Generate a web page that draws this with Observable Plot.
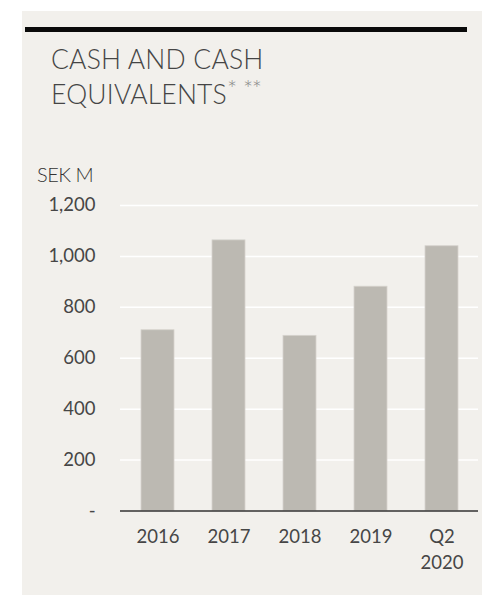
<!DOCTYPE html>
<html>
<head>
<meta charset="utf-8">
<script src="https://cdn.jsdelivr.net/npm/d3@7"></script>
<script src="https://cdn.jsdelivr.net/npm/@observablehq/plot@0.6"></script>
<style>
  html, body { margin: 0; padding: 0; background: #ffffff; }
  body { width: 482px; height: 595px; position: relative; overflow: hidden; font-family: Lato, "Open Sans", sans-serif; }
  #panel { position: absolute; left: 22px; top: 11px; width: 460px; height: 584px; background: #f2f0ec; }
  #rule { position: absolute; left: 25px; top: 27px; width: 442px; height: 5px; background: #0a0a0a; }
  #title { position: absolute; left: 51px; top: 42px; font-size: 26.5px; line-height: 35px; font-weight: 300; color: #454545; letter-spacing: 0.2px; }
  #title sup { font-size: 24px; color: #8a8a8a; vertical-align: 0; position: relative; top: -6px; letter-spacing: -1.5px; }
  #unit { position: absolute; left: 37px; top: 162px; font-size: 20px; font-weight: 300; color: #333333; letter-spacing: -0.5px; }
  #chart { position: absolute; left: 0; top: 150px; }
</style>
</head>
<body>
<div id="panel"></div>
<div id="rule"></div>
<div id="title">CASH AND CASH<br>EQUIVALENTS<sup>*</sup> <sup>**</sup></div>
<div id="unit">SEK M</div>
<div id="chart"></div>
<script>
const categories = ["2016", "2017", "2018", "2019", "Q2 2020"];
const tickLabels = ["2016", "2017", "2018", "2019", "Q2\n2020"];
const values = [710, 1063, 688, 881, 1040];
const yTicks = [0, 200, 400, 600, 800, 1000, 1200];

const data = categories.map((c, i) => ({category: c, value: values[i]}));

const chart = Plot.plot({
  width: 482,
  height: 445,
  marginLeft: 120,
  marginRight: 4,
  marginTop: 55,
  marginBottom: 84.5,
  style: {background: "transparent", fontFamily: "Lato, 'Open Sans', sans-serif", fontSize: "18.5px", color: "#464646", fontWeight: 400},
  x: {domain: categories, paddingInner: 0.54, paddingOuter: 0.27, label: null},
  y: {domain: [0, 1200], label: null},
  marks: [
    Plot.ruleY(yTicks.filter(d => d > 0), {stroke: "#ffffff", strokeWidth: 1.5}),
    Plot.barY(data, {x: "category", y: "value", fill: "#bcb9b2", stroke: "#d6d3cd", strokeWidth: 0.8}),
    Plot.ruleY([0], {stroke: "#333333", strokeWidth: 1.5}),
    Plot.axisX({tickSize: 0, tickPadding: 14, lineHeight: 1.4, fill: "#464646",
      tickFormat: d => tickLabels[categories.indexOf(d)], label: null}),
    Plot.axisY({ticks: yTicks, tickSize: 0, tickPadding: 25, fill: "#464646",
      tickFormat: d => d === 0 ? "-" : d3.format(",")(d), label: null})
  ]
});
document.getElementById("chart").appendChild(chart);
</script>
</body>
</html>
